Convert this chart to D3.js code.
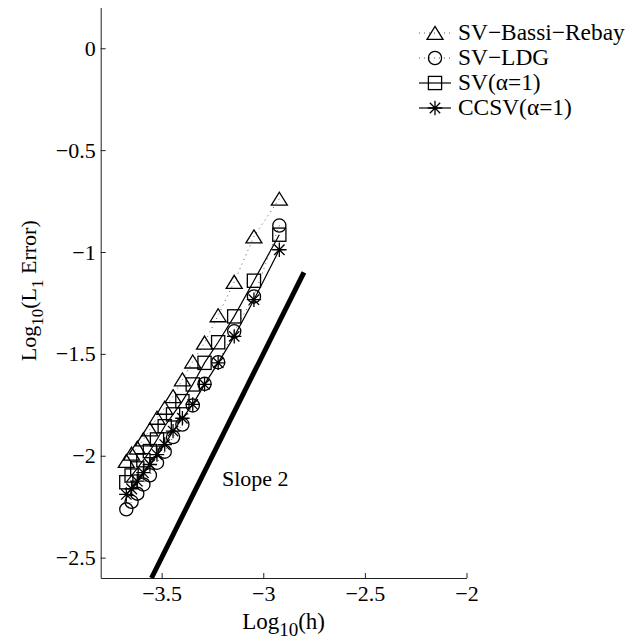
<!DOCTYPE html>
<html>
<head>
<meta charset="utf-8">
<script src="https://cdn.jsdelivr.net/npm/d3@7"></script>
<style>
  body { margin: 0; background: #fff; }
  text { font-family: "Liberation Serif", "Times New Roman", serif; fill: #000; }
</style>
</head>
<body>
<svg id="chart" width="637" height="641"></svg>
<script>
// ---- data ----
const logH = [-2.921, -3.046, -3.143, -3.222, -3.289, -3.347, -3.398, -3.444, -3.485, -3.523, -3.558, -3.590, -3.620, -3.648, -3.674];
const bassiRebay = [-0.739, -0.924, -1.147, -1.311, -1.445, -1.538, -1.626, -1.708, -1.765, -1.814, -1.871, -1.920, -1.961, -1.990, -2.026];
const ldg        = [-0.870, -1.218, -1.389, -1.541, -1.647, -1.753, -1.847, -1.908, -1.980, -2.034, -2.096, -2.141, -2.186, -2.226, -2.263];
const sv1        = [-0.915, -1.141, -1.316, -1.443, -1.544, -1.650, -1.732, -1.797, -1.855, -1.920, -1.977, -2.022, -2.062, -2.097, -2.130];
const ccsv1      = [-0.989, -1.234, -1.414, -1.544, -1.650, -1.748, -1.816, -1.879, -1.945, -1.994, -2.043, -2.083, -2.125, -2.162, -2.190];
const slopeX = [-3.55, -2.80];
const slopeY = [-2.60, -1.10];
const xTicks = [-3.5, -3, -2.5, -2];
const xTickLabels = ["\u22123.5", "\u22123", "\u22122.5", "\u22122"];
const yTicks = [0, -0.5, -1, -1.5, -2, -2.5];
const yTickLabels = ["0", "\u22120.5", "\u22121", "\u22121.5", "\u22122", "\u22122.5"];
const seriesNames = ["SV\u2212Bassi\u2212Rebay", "SV\u2212LDG", "SV(\u03B1=1)", "CCSV(\u03B1=1)"];

// ---- layout ----
const svg = d3.select("#chart");
const FS = 22;
const x = d3.scaleLinear().domain([-3.8, -2]).range([100.7, 466.5]);
const y = d3.scaleLinear().domain([-2.6, 0.2]).range([578, 7.5]);

const series = [
  { name: seriesNames[0], vals: bassiRebay, marker: "tri", dash: "1,4", lw: 0.9, stroke: "#444" },
  { name: seriesNames[1], vals: ldg, marker: "circ", dash: "1,4", lw: 0.9, stroke: "#444" },
  { name: seriesNames[2], vals: sv1, marker: "sq", dash: null, lw: 1.2, stroke: "#000" },
  { name: seriesNames[3], vals: ccsv1, marker: "star", dash: null, lw: 1.2, stroke: "#000" }
];

function drawMarker(g, type, cx, cy) {
  const s = g.append("g").attr("transform", `translate(${cx},${cy})`)
    .attr("fill", "none").attr("stroke", "#000").attr("stroke-width", 1.3);
  if (type === "tri") {
    s.append("path").attr("d", "M0,-6.6L8,6.4L-8,6.4Z");
  } else if (type === "circ") {
    s.append("circle").attr("r", 6.6);
  } else if (type === "sq") {
    s.append("rect").attr("x", -6.6).attr("y", -6.6).attr("width", 13.2).attr("height", 13.2);
  } else if (type === "star") {
    const r = 7.2, d = r * 0.72;
    s.append("path").attr("d", `M${-r},0L${r},0M0,${-r}L0,${r}M${-d},${-d}L${d},${d}M${-d},${d}L${d},${-d}`);
  }
}

// axes
const xAxis = d3.axisBottom(x).tickValues(xTicks).tickFormat((d, i) => xTickLabels[i])
  .tickSizeInner(-5).tickSizeOuter(0).tickPadding(7);
const yAxis = d3.axisLeft(y).tickValues(yTicks).tickFormat((d, i) => yTickLabels[i])
  .tickSizeInner(-5).tickSizeOuter(0).tickPadding(5);

const gx = svg.append("g").attr("transform", `translate(0,${y.range()[0]})`).call(xAxis);
const gy = svg.append("g").attr("transform", `translate(${x.range()[0]},0)`).call(yAxis);
[gx, gy].forEach(g => {
  g.attr("font-family", null).attr("font-size", null);
  g.selectAll("text").style("font-size", FS + "px");
  g.select(".domain").attr("stroke", "#222").attr("stroke-width", 1);
  g.selectAll(".tick line").attr("stroke", "#222");
});

// slope line
const slopeData = slopeX.map((d, i) => [d, slopeY[i]]);
svg.append("path").datum(slopeData)
  .attr("d", d3.line().x(d => x(d[0])).y(d => y(d[1])))
  .attr("stroke", "#000").attr("stroke-width", 5).attr("fill", "none");

svg.append("text").attr("x", 222).attr("y", 486).style("font-size", FS + "px").text("Slope 2");

// series
const line = d3.line().x(d => x(d[0])).y(d => y(d[1]));
series.forEach(s => {
  const pts = logH.map((h, i) => [h, s.vals[i]]);
  const p = svg.append("path").datum(pts).attr("d", line)
    .attr("fill", "none").attr("stroke", s.stroke).attr("stroke-width", s.lw);
  if (s.dash) p.attr("stroke-dasharray", s.dash);
});
series.forEach(s => {
  const g = svg.append("g");
  logH.forEach((h, i) => drawMarker(g, s.marker, x(h), y(s.vals[i])));
});

// legend
const lg = svg.append("g");
series.forEach((s, i) => {
  const cy = 33 + i * 25;
  const l = lg.append("line").attr("x1", 419).attr("x2", 451).attr("y1", cy).attr("y2", cy)
    .attr("stroke", s.stroke).attr("stroke-width", s.lw);
  if (s.dash) l.attr("stroke-dasharray", s.dash);
  drawMarker(lg, s.marker, 435, cy);
  lg.append("text").attr("x", 458).attr("y", cy + 7).style("font-size", "23.4px").text(s.name);
});

// axis labels
const xl = svg.append("text").attr("text-anchor", "middle")
  .attr("x", (x.range()[0] + x.range()[1]) / 2).attr("y", 629).style("font-size", "23px");
xl.append("tspan").text("Log");
xl.append("tspan").attr("dy", 7).style("font-size", "19px").text("10");
xl.append("tspan").attr("dy", -7).text("(h)");

const yl = svg.append("text").attr("text-anchor", "middle")
  .attr("transform", `translate(36,${(y.range()[0] + y.range()[1]) / 2 - 2}) rotate(-90)`)
  .style("font-size", FS + "px");
yl.append("tspan").text("Log");
yl.append("tspan").attr("dy", 7).style("font-size", "17px").text("10");
yl.append("tspan").attr("dy", -7).text("(L");
yl.append("tspan").attr("dy", 7).style("font-size", "17px").text("1");
yl.append("tspan").attr("dy", -7).text(" Error)");
</script>
</body>
</html>
